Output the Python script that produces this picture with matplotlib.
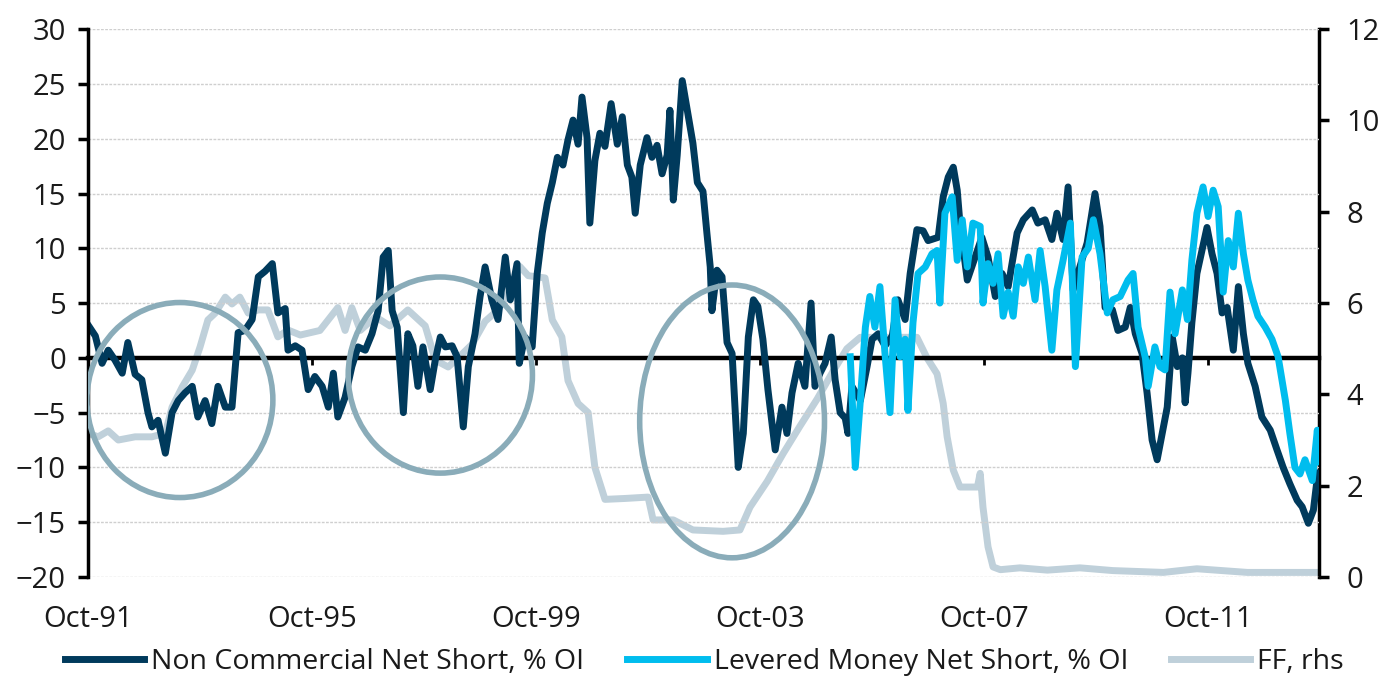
import numpy as np
import matplotlib.pyplot as plt
from matplotlib.patches import Ellipse
from matplotlib.lines import Line2D

plt.rcParams['font.family'] = ['Open Sans', 'DejaVu Sans']

# Non Commercial Net Short, % OI  (x in fractional years)
nc_t = [1991.75, 1991.88, 1992.00, 1992.11, 1992.23, 1992.36, 1992.46, 1992.59, 1992.71, 1992.82,
        1992.89, 1993.00, 1993.13, 1993.25, 1993.36, 1993.48, 1993.61, 1993.71, 1993.84, 1993.96,
        1994.07, 1994.20, 1994.32, 1994.43, 1994.55, 1994.68, 1994.79, 1994.91, 1995.04, 1995.14,
        1995.27, 1995.32, 1995.45, 1995.57, 1995.68, 1995.80, 1995.93, 1996.04, 1996.13, 1996.21,
        1996.34, 1996.46, 1996.57, 1996.70, 1996.82, 1996.93, 1997.02, 1997.11, 1997.18, 1997.27,
        1997.38, 1997.46, 1997.55, 1997.64, 1997.73, 1997.86, 1997.95, 1998.04, 1998.13, 1998.25,
        1998.34, 1998.45, 1998.54, 1998.66, 1998.75, 1998.84, 1998.96, 1999.07, 1999.20, 1999.29,
        1999.41, 1999.45, 1999.55, 1999.68, 1999.77, 1999.86, 1999.95, 2000.04, 2000.13, 2000.23,
        2000.32, 2000.41, 2000.50, 2000.57, 2000.66, 2000.71, 2000.80, 2000.89, 2000.98, 2001.09,
        2001.20, 2001.29, 2001.38, 2001.46, 2001.52, 2001.61, 2001.73, 2001.82, 2001.91, 2002.00,
        2002.09, 2002.14, 2002.20, 2002.27, 2002.36, 2002.45, 2002.55, 2002.63, 2002.73, 2002.80,
        2002.86, 2002.89, 2002.98, 2003.07, 2003.16, 2003.25, 2003.36, 2003.45, 2003.54, 2003.63,
        2003.71, 2003.80, 2003.89, 2004.02, 2004.14, 2004.23, 2004.32, 2004.43, 2004.55, 2004.66,
        2004.73, 2004.82, 2004.91, 2005.02, 2005.09, 2005.18, 2005.27, 2005.32, 2005.39, 2005.54,
        2005.66, 2005.75, 2005.86, 2005.98, 2006.11, 2006.21, 2006.34, 2006.43, 2006.55, 2006.66,
        2006.75, 2006.93, 2007.02, 2007.11, 2007.20, 2007.27, 2007.32, 2007.45, 2007.59, 2007.71,
        2007.82, 2007.95, 2008.07, 2008.18, 2008.34, 2008.45, 2008.61, 2008.71, 2008.84, 2008.96,
        2009.05, 2009.16, 2009.25, 2009.34, 2009.46, 2009.59, 2009.73, 2009.82, 2009.91, 2010.04,
        2010.14, 2010.27, 2010.36, 2010.45, 2010.57, 2010.66, 2010.75, 2010.84, 2010.93, 2011.02,
        2011.11, 2011.20, 2011.29, 2011.34, 2011.39, 2011.46, 2011.55, 2011.64, 2011.73, 2011.82,
        2011.91, 2012.00, 2012.09, 2012.20, 2012.29, 2012.38, 2012.46, 2012.59, 2012.71, 2012.86,
        2012.98, 2013.09, 2013.21, 2013.34, 2013.43, 2013.54, 2013.63, 2013.71]
nc_v = [3.0, 2.0, -0.5, 0.7, -0.2, -1.4, 1.4, -1.5, -2.0, -5.0,
        -6.3, -5.7, -8.7, -5.0, -3.9, -3.2, -2.6, -5.4, -3.9, -6.0,
        -2.6, -4.5, -4.5, 2.3, 2.5, 3.5, 7.4, 7.9, 8.6, 4.1,
        4.5, 0.7, 1.1, 0.7, -2.9, -1.7, -2.6, -4.5, -1.4, -5.4,
        -3.6, -0.8, 1.0, 0.7, 2.2, 4.3, 9.2, 9.8, 4.3, 2.8,
        -5.0, 2.2, 1.1, -2.6, 1.0, -2.9, -0.2, 1.9, 1.0, 1.1,
        0.1, -6.3, -0.8, 2.2, 5.6, 8.3, 5.3, 3.5, 9.2, 5.3,
        8.6, -0.5, 1.9, 1.0, 7.7, 11.4, 14.1, 16.0, 18.3, 17.6,
        19.9, 21.7, 19.5, 23.8, 20.1, 12.3, 18.0, 20.5, 19.3, 23.2,
        19.5, 22.0, 17.6, 16.5, 13.2, 17.6, 20.1, 18.3, 19.4, 16.8,
        18.5, 22.6, 14.4, 18.5, 25.3, 22.6, 19.6, 16.0, 15.2, 11.4,
        8.3, 4.3, 8.0, 7.4, 1.4, 0.4, -10.0, -6.9, 1.9, 5.3,
        4.7, 1.7, -2.9, -8.4, -4.5, -6.9, -3.2, -0.5, -2.6, 5.0,
        -2.6, -1.4, -0.5, 1.9, -2.0, -5.0, -5.5, -6.9, -2.6, -3.9,
        -0.8, 1.7, 2.2, 1.1, 2.0, 5.3, 3.5, 7.7, 11.7, 11.6,
        10.7, 11.0, 14.7, 16.5, 17.4, 15.3, 12.2, 7.1, 9.2, 11.0,
        9.2, 5.6, 7.7, 6.5, 11.4, 12.6, 13.5, 12.3, 12.6, 10.8,
        13.2, 10.8, 15.6, 6.2, 8.3, 10.5, 15.0, 12.0, 4.6, 4.4,
        2.5, 2.8, 4.6, 2.2, 0.4, -3.2, -7.5, -9.3, -6.9, -4.5,
        1.9, -0.8, 0.0, -4.1, -1.4, 3.2, 7.7, 9.8, 11.9, 9.5,
        7.7, 4.1, 4.6, 0.7, 6.5, 2.2, -0.5, -2.6, -5.4, -6.6,
        -8.4, -10.0, -11.5, -13.0, -13.6, -15.1, -13.9, -10.5]

# Levered Money Net Short, % OI
lm_t = [2005.36, 2005.45, 2005.54, 2005.63, 2005.71, 2005.80, 2005.89, 2005.98, 2006.07, 2006.16,
        2006.25, 2006.34, 2006.39, 2006.48, 2006.57, 2006.70, 2006.82, 2006.91, 2006.96, 2007.05,
        2007.18, 2007.27, 2007.36, 2007.45, 2007.55, 2007.68, 2007.73, 2007.82, 2007.91, 2008.00,
        2008.09, 2008.18, 2008.27, 2008.36, 2008.45, 2008.54, 2008.66, 2008.75, 2008.84, 2008.96,
        2009.05, 2009.16, 2009.29, 2009.38, 2009.50, 2009.61, 2009.70, 2009.82, 2009.95, 2010.05,
        2010.18, 2010.32, 2010.41, 2010.50, 2010.63, 2010.68, 2010.80, 2010.89, 2010.98, 2011.07,
        2011.16, 2011.29, 2011.38, 2011.46, 2011.55, 2011.66, 2011.75, 2011.84, 2011.93, 2012.02,
        2012.11, 2012.20, 2012.29, 2012.38, 2012.46, 2012.55, 2012.64, 2012.77, 2012.89, 2013.00,
        2013.13, 2013.21, 2013.30, 2013.39, 2013.48, 2013.61, 2013.70, 2013.73]
lm_v = [0.1, -10.0, -3.9, 2.8, 5.6, 2.8, 6.5, 0.4, -5.0, 5.3,
        0.1, 1.7, -4.8, 3.2, 7.7, 8.3, 9.5, 9.8, 5.0, 13.2,
        14.7, 8.9, 12.6, 8.3, 12.3, 12.0, 5.0, 8.6, 6.8, 9.5,
        3.8, 6.0, 3.8, 8.3, 6.8, 9.2, 5.3, 9.8, 6.5, 0.7,
        6.2, 8.9, 12.3, -0.8, 9.2, 10.0, 12.6, 9.5, 4.1, 5.3,
        5.6, 7.1, 7.7, 2.8, 0.0, -2.6, 1.0, -0.8, -1.1, 6.0,
        2.2, 6.2, 3.5, 8.9, 13.2, 15.6, 12.9, 15.3, 13.8, 6.0,
        10.7, 8.3, 13.2, 9.5, 7.1, 5.3, 3.8, 2.8, 1.7, 0.1,
        -3.9, -6.9, -10.0, -10.6, -9.3, -11.2, -6.6, -9.5]

# FF, rhs
ff_t = [1991.75, 1991.93, 1992.11, 1992.29, 1992.59, 1992.89, 1993.13, 1993.25, 1993.43, 1993.61,
        1993.75, 1993.89, 1994.02, 1994.20, 1994.32, 1994.46, 1994.61, 1994.79, 1994.96, 1995.14,
        1995.32, 1995.54, 1995.89, 1996.21, 1996.34, 1996.46, 1996.61, 1996.88, 1997.14, 1997.46,
        1997.77, 1997.95, 1998.18, 1998.36, 1998.61, 1998.84, 1999.07, 1999.25, 1999.46, 1999.61,
        1999.91, 2000.04, 2000.21, 2000.32, 2000.50, 2000.68, 2000.80, 2000.98, 2001.34, 2001.75,
        2001.84, 2002.20, 2002.55, 2003.09, 2003.39, 2003.57, 2003.88, 2004.16, 2004.46, 2004.77,
        2005.05, 2005.30, 2005.54, 2006.55, 2006.73, 2006.91, 2007.02, 2007.09, 2007.20, 2007.32,
        2007.63, 2007.68, 2007.73, 2007.82, 2007.91, 2008.04, 2008.39, 2008.88, 2009.46, 2010.05,
        2010.95, 2011.55, 2012.45, 2013.71]
ff_v = [3.15, 3.07, 3.2, 3.0, 3.07, 3.07, 3.15, 3.72, 4.16, 4.53,
        5.04, 5.63, 5.78, 6.13, 5.98, 6.13, 5.78, 5.85, 5.85, 5.26,
        5.41, 5.3, 5.4, 5.9, 5.4, 5.9, 5.4, 5.7, 5.5, 5.85,
        5.5, 4.75, 4.6, 4.8, 5.1, 5.6, 5.85, 6.2, 6.8, 6.6,
        6.55, 5.63, 5.26, 4.3, 3.8, 3.6, 2.4, 1.7, 1.72, 1.75,
        1.25, 1.25, 1.03, 1.0, 1.03, 1.53, 2.1, 2.7, 3.3, 3.9,
        4.5, 5.0, 5.25, 5.25, 4.8, 4.45, 3.8, 3.07, 2.34, 1.97,
        1.97, 2.27, 1.53, 0.66, 0.22, 0.16, 0.2, 0.15, 0.2, 0.14,
        0.1, 0.18, 0.1, 0.1]

xtick_pos = [1991.75, 1995.75, 1999.75, 2003.75, 2007.75, 2011.75]
xtick_lab = ['Oct-91', 'Oct-95', 'Oct-99', 'Oct-03', 'Oct-07', 'Oct-11']

# highlighted episodes: (centre x, centre y, width in years, height in % OI)
circles = [(1993.39, -3.85, 3.32, 17.8),
           (1998.04, -1.57, 3.29, 17.9),
           (2003.25, -5.8, 3.3, 24.9)]

c_nc = '#003a5c'
c_lm = '#00bdee'
c_ff = '#bfd0da'
c_circ = '#8aacb9'
txt = '#1a1a1a'
fs = 21

fig = plt.figure(figsize=(13.89, 6.78), dpi=100)
ax = fig.add_axes([0.0634, 0.149, 0.8862, 0.808])
ax2 = ax.twinx()
ax.set_zorder(ax2.get_zorder() + 1)
ax.patch.set_visible(False)

ax2.plot(ff_t, ff_v, color=c_ff, lw=5)
ax.plot(nc_t, nc_v, color=c_nc, lw=5)
ax.plot(lm_t, lm_v, color=c_lm, lw=5)

for cx, cy, w, h in circles:
    ax.add_patch(Ellipse((cx, cy), w, h, fill=False, ec=c_circ, lw=4, zorder=5))

ax.set_xlim(1991.75, 2013.73)
ax.set_ylim(-20, 30)
ax2.set_ylim(0, 12)
ax.set_yticks(np.arange(-20, 31, 5))
ax2.set_yticks(np.arange(0, 13, 2))
ax.set_xticks(xtick_pos)
ax.set_xticklabels(xtick_lab)

ax.grid(axis='y', color='#cfcfcf', lw=1, linestyle=(0, (2, 1)))

for s in ['top', 'right']:
    ax.spines[s].set_visible(False)
for s in ['top', 'left', 'bottom']:
    ax2.spines[s].set_visible(False)
ax.spines['left'].set_linewidth(2.5)
ax2.spines['right'].set_linewidth(2.5)
ax.spines['bottom'].set_position(('data', 0))
ax.spines['bottom'].set_linewidth(3.2)
ax.spines['bottom'].set_zorder(1.9)

ax.tick_params(axis='y', direction='out', length=7, width=2.5, pad=9,
               labelsize=fs, labelcolor=txt)
ax2.tick_params(axis='y', direction='out', length=7, width=2.5, pad=13,
                labelsize=fs, labelcolor=txt)
ax.tick_params(axis='x', direction='out', length=5, width=2, pad=173,
               labelsize=fs, labelcolor=txt)

handles = [Line2D([], [], color=c_nc, lw=5),
           Line2D([], [], color=c_lm, lw=5),
           Line2D([], [], color=c_ff, lw=5)]
labels = ['Non Commercial Net Short, % OI', 'Levered Money Net Short, % OI', 'FF, rhs']
leg = fig.legend(handles, labels, loc='center', bbox_to_anchor=(0.507, 0.024), ncol=3,
                 frameon=False, handlelength=2.8, handletextpad=0.24, columnspacing=1.5,
                 fontsize=20.5)
for t in leg.get_texts():
    t.set_color(txt)

fig.savefig('out.png', dpi=100)
